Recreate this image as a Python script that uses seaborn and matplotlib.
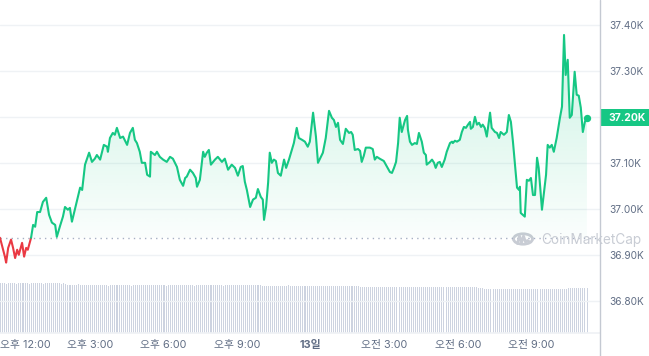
import numpy as np
import pandas as pd
import matplotlib
matplotlib.use("Agg")
import matplotlib.pyplot as plt
import seaborn as sns
from matplotlib.transforms import blended_transform_factory
from matplotlib.patches import Rectangle, Circle
from matplotlib.lines import Line2D

# ---------------- data ----------------
# minutes since 11:20 (12th), price in USD
minutes = [0, 12, 15, 20, 27, 32, 37, 42, 46, 54, 59, 64, 68, 76, 81, 86, 91, 98, 105, 113,
           120, 127, 135, 139, 147, 154, 159, 166, 171, 176, 183, 196, 201, 208, 218, 225, 232, 237, 245, 254,
           262, 264, 269, 276, 281, 286, 294, 301, 311, 318, 325, 330, 335, 342, 347, 355, 360, 367, 369, 379,
           384, 391, 399, 408, 416, 423, 433, 440, 448, 453, 457, 465, 472, 479, 482, 489, 497, 501, 506, 511,
           516, 526, 533, 543, 550, 558, 567, 575, 582, 589, 594, 599, 604, 612, 619, 626, 631, 638, 643, 646,
           651, 656, 660, 665, 670, 675, 680, 687, 695, 700, 707, 714, 719, 726, 731, 739, 746, 753, 758, 766,
           773, 778, 785, 790, 797, 805, 812, 817, 822, 827, 832, 839, 846, 854, 859, 863, 868, 876, 881, 885,
           890, 895, 905, 912, 917, 922, 929, 939, 947, 954, 959, 964, 969, 974, 978, 983, 991, 996, 998, 1003,
           1008, 1015, 1020, 1025, 1032, 1037, 1042, 1044, 1052, 1057, 1062, 1066, 1071, 1076, 1081, 1088, 1093, 1101, 1106, 1108,
           1113, 1118, 1125, 1130, 1135, 1140, 1145, 1150, 1152, 1157, 1162, 1167, 1172, 1177, 1181, 1186, 1191, 1199, 1203, 1211,
           1216, 1221, 1225, 1233, 1240, 1245, 1250, 1255, 1260, 1265, 1270, 1272, 1274, 1279, 1284, 1289, 1294, 1299, 1304, 1309,
           1314, 1318, 1326, 1331, 1336, 1340, 1345, 1350, 1355, 1362, 1370, 1375, 1380, 1384, 1389, 1394, 1399, 1406, 1411, 1416,
           1421, 1426, 1431, 1436]
prices = [36937, 36896, 36883, 36915, 36933, 36915, 36893, 36911, 36900, 36926, 36896, 36915, 36911, 36937, 36965, 36961, 36993, 36993, 37015, 37024,
          36987, 36970, 36965, 36939, 36963, 36983, 37004, 36998, 37002, 36972, 36998, 37046, 37041, 37096, 37122, 37102, 37109, 37117, 37107, 37139,
          37135, 37124, 37154, 37165, 37161, 37176, 37154, 37157, 37139, 37165, 37176, 37150, 37143, 37124, 37100, 37100, 37074, 37070, 37124, 37117,
          37124, 37113, 37107, 37102, 37113, 37109, 37091, 37063, 37050, 37067, 37070, 37085, 37078, 37067, 37048, 37063, 37124, 37113, 37122, 37128,
          37096, 37107, 37113, 37102, 37109, 37085, 37096, 37089, 37072, 37091, 37093, 37059, 37041, 37004, 37020, 37024, 37043, 37026, 37020, 36976,
          37004, 37057, 37122, 37100, 37107, 37104, 37078, 37072, 37107, 37089, 37107, 37128, 37143, 37176, 37154, 37150, 37146, 37135, 37146, 37209,
          37157, 37100, 37113, 37122, 37154, 37213, 37198, 37193, 37178, 37187, 37150, 37141, 37174, 37165, 37167, 37161, 37128, 37130, 37126, 37102,
          37115, 37133, 37133, 37130, 37107, 37113, 37109, 37104, 37091, 37080, 37078, 37089, 37102, 37143, 37198, 37167, 37193, 37202, 37172, 37146,
          37139, 37143, 37141, 37165, 37146, 37122, 37117, 37096, 37102, 37107, 37100, 37089, 37100, 37102, 37091, 37107, 37124, 37143, 37146, 37143,
          37148, 37146, 37150, 37167, 37178, 37176, 37183, 37189, 37174, 37178, 37200, 37183, 37187, 37178, 37183, 37176, 37157, 37209, 37176, 37167,
          37165, 37154, 37167, 37161, 37167, 37204, 37189, 37146, 37096, 37046, 37041, 37048, 36991, 36987, 36983, 37063, 37061, 37067, 37030, 37030,
          37111, 37089, 36998, 37037, 37074, 37139, 37133, 37139, 37124, 37154, 37198, 37222, 37378, 37291, 37324, 37198, 37204, 37298, 37248, 37246,
          37220, 37167, 37189, 37198]
open_price = 36937

# volume, one bar per 5 minutes (relative units)
volume = [
    50, 50, 50, 49, 50, 50, 50, 50, 49, 50, 50, 50, 50, 50, 49, 50, 50, 50, 50, 50, 50, 49, 50, 50,
    50, 50, 50, 50, 50, 50, 49, 50, 49, 48, 48, 48, 48, 48, 49, 48, 48, 48, 48, 48, 48, 48, 48, 48,
    48, 48, 48, 48, 48, 47, 48, 48, 48, 48, 48, 48, 48, 48, 48, 48, 47, 48, 48, 48, 48, 48, 48, 48,
    48, 48, 48, 48, 48, 48, 48, 48, 48, 47, 48, 48, 48, 48, 48, 48, 48, 48, 48, 48, 48, 48, 48, 47,
    48, 48, 48, 48, 48, 48, 48, 48, 48, 48, 48, 48, 48, 47, 48, 48, 48, 48, 48, 48, 48, 48, 48, 48,
    48, 48, 48, 48, 48, 48, 48, 48, 47, 47, 47, 47, 47, 47, 47, 47, 47, 47, 47, 47, 47, 48, 47, 47,
    47, 47, 47, 47, 47, 47, 47, 47, 47, 47, 47, 47, 47, 47, 47, 47, 47, 47, 47, 47, 47, 47, 47, 47,
    47, 47, 47, 47, 47, 47, 47, 47, 46, 46, 46, 46, 46, 46, 46, 46, 46, 46, 46, 46, 46, 46, 46, 46,
    46, 46, 46, 46, 46, 46, 46, 46, 46, 46, 46, 46, 46, 46, 46, 46, 46, 46, 46, 46, 46, 46, 46, 46,
    46, 46, 46, 46, 46, 46, 46, 46, 46, 46, 46, 46, 46, 46, 46, 46, 46, 46, 45, 45, 45, 44, 44, 44,
    44, 44, 44, 44, 44, 44, 44, 44, 44, 44, 44, 44, 44, 44, 44, 44, 44, 44, 44, 44, 44, 44, 44, 44,
    44, 44, 44, 44, 44, 44, 44, 44, 44, 44, 44, 44, 44, 44, 45, 45, 45, 45, 45, 45, 45, 45, 45, 45,
]
volume_step = 5

tick_minutes = [40, 220, 400, 580, 760, 940, 1120, 1300]
tick_labels = ["오후 12:00", "오후 3:00", "오후 6:00", "오후 9:00", "13일", "오전 3:00", "오전 6:00", "오전 9:00"]
price_ticks = [36800, 36900, 37000, 37100, 37200, 37300, 37400]

# ---------------- style ----------------
sns.set_theme(style="white")
plt.rcParams["font.family"] = ["Inter", "Noto Sans CJK KR", "DejaVu Sans"]

GREEN = "#16c784"
RED = "#ea3943"
TXT = "#616e85"
WM = "#c8ccd4"

W, H = 649, 356
fig = plt.figure(figsize=(W / 100, H / 100), dpi=100)
ax = fig.add_axes([0, 23 / H, 600 / W, 333 / H])

df = pd.DataFrame({"minute": minutes, "price": prices})
m_arr = df["minute"].to_numpy(dtype=float)
p_arr = df["price"].to_numpy(dtype=float)

# split: red while below the open, green after first crossing
first_up = int(np.argmax((p_arr >= open_price) & (np.arange(len(p_arr)) > 0)))
red_df = df.iloc[: first_up + 1]
green_df = df.iloc[first_up:]

# volume on twin axis
ax2 = ax.twinx()
vol_x = np.arange(len(volume)) * volume_step
ax2.bar(vol_x, volume, width=volume_step * 0.5, color="#cdd3e0", linewidth=0, align="edge")
ax2.set_ylim(0, 333)
ax2.set_yticks([])
for s in ax2.spines.values():
    s.set_visible(False)
ax2.set_zorder(0)
ax.set_zorder(1)
ax.patch.set_visible(False)

# gradient fill above open
poly = ax.fill_between(m_arr, np.maximum(p_arr, open_price), open_price,
                       facecolor="none", edgecolor="none")
grad = np.zeros((256, 1, 4))
rgb = matplotlib.colors.to_rgb(GREEN)
grad[:, 0, 0], grad[:, 0, 1], grad[:, 0, 2] = rgb
grad[:, 0, 3] = np.linspace(0.24, 0.02, 256)
im = ax.imshow(grad, extent=[m_arr[0], m_arr[-1], open_price, 37420],
               aspect="auto", origin="upper", zorder=1, interpolation="bilinear")
im.set_clip_path(poly.get_paths()[0], transform=ax.transData)

# lines
sns.lineplot(data=red_df, x="minute", y="price", ax=ax, color=RED, linewidth=1.5,
             estimator=None, sort=False, zorder=3)
sns.lineplot(data=green_df, x="minute", y="price", ax=ax, color=GREEN, linewidth=1.5,
             estimator=None, sort=False, zorder=3)
ax.scatter([m_arr[-1]], [p_arr[-1]], s=28, color=GREEN, zorder=4, linewidths=0)

# open-price dotted line
ax.axhline(open_price, color="#a6b0c3", linestyle=(0, (1, 3)), linewidth=1.0, zorder=2)

# axes setup
last_label = f"{p_arr[-1]/1000:.2f}K"
ax.set_xlim(0, 1468)
ax.set_ylim(36730, 37454)
ax.set_yticks(price_ticks)
ax.set_yticklabels([("" if f"{v/1000:.2f}K" == last_label else f"{v/1000:.2f}K") for v in price_ticks])
ax.yaxis.tick_right()
ax.tick_params(axis="y", length=0, pad=7, labelsize=7.3, labelcolor=TXT)
ax.set_xticks(tick_minutes)
ax.set_xticklabels(tick_labels)
ax.tick_params(axis="x", length=0, pad=5, labelsize=7.8, labelcolor=TXT)
for lab in ax.get_xticklabels():
    if lab.get_text() == "13일":
        lab.set_fontweight("bold")
first = ax.get_xticklabels()[0]
first.set_horizontalalignment("left")
first.set_transform(first.get_transform() + matplotlib.transforms.ScaledTranslation(-16.5 / 100, 0, fig.dpi_scale_trans))
ax.set_xlabel("")
ax.set_ylabel("")
ax.grid(axis="y", color="#eff2f5", linewidth=1.0)
ax.grid(axis="x", visible=False)
ax.set_axisbelow(True)
for name, s in ax.spines.items():
    s.set_visible(False)
ax.spines["bottom"].set_visible(True)
ax.spines["bottom"].set_color("#eff2f5")

# current price tag
bt = blended_transform_factory(ax.transAxes, ax.transData)
ax.add_patch(Rectangle((1.0, p_arr[-1] - 18.5), 0.1, 37, transform=bt, clip_on=False,
                       facecolor=GREEN, edgecolor="none", zorder=10))
ax.text(1.0 + 8 / 600, p_arr[-1], last_label, transform=bt, ha="left", va="center",
        color="white", fontsize=7.5, fontweight="bold", zorder=11, clip_on=False)

# right border line
fig.add_artist(Line2D([600 / W, 600 / W], [0, 1], transform=fig.transFigure, color="#c4c9d2", linewidth=1.0))

# watermark
cx, cy = 523, 239
fig.add_artist(Circle((cx / W, 1 - cy / H), 9.5 / W, transform=fig.transFigure, fill=False,
                      edgecolor=WM, linewidth=2.0))
wave_dx = [-5.5, -3.5, -1.5, 0.5, 2.5, 4.5, 6.0]
wave_dy = [4.5, -3.0, 3.5, -3.0, 3.0, 1.5, 2.5]
fig.add_artist(Line2D([(cx + d) / W for d in wave_dx], [1 - (cy + d) / H for d in wave_dy],
                      transform=fig.transFigure, color=WM, linewidth=2.0, solid_joinstyle="round"))
fig.text(541 / W, 1 - 240 / H, "CoinMarketCap", color=WM, fontsize=9.8,
         ha="left", va="center")

fig.savefig("out.png", dpi=100)
